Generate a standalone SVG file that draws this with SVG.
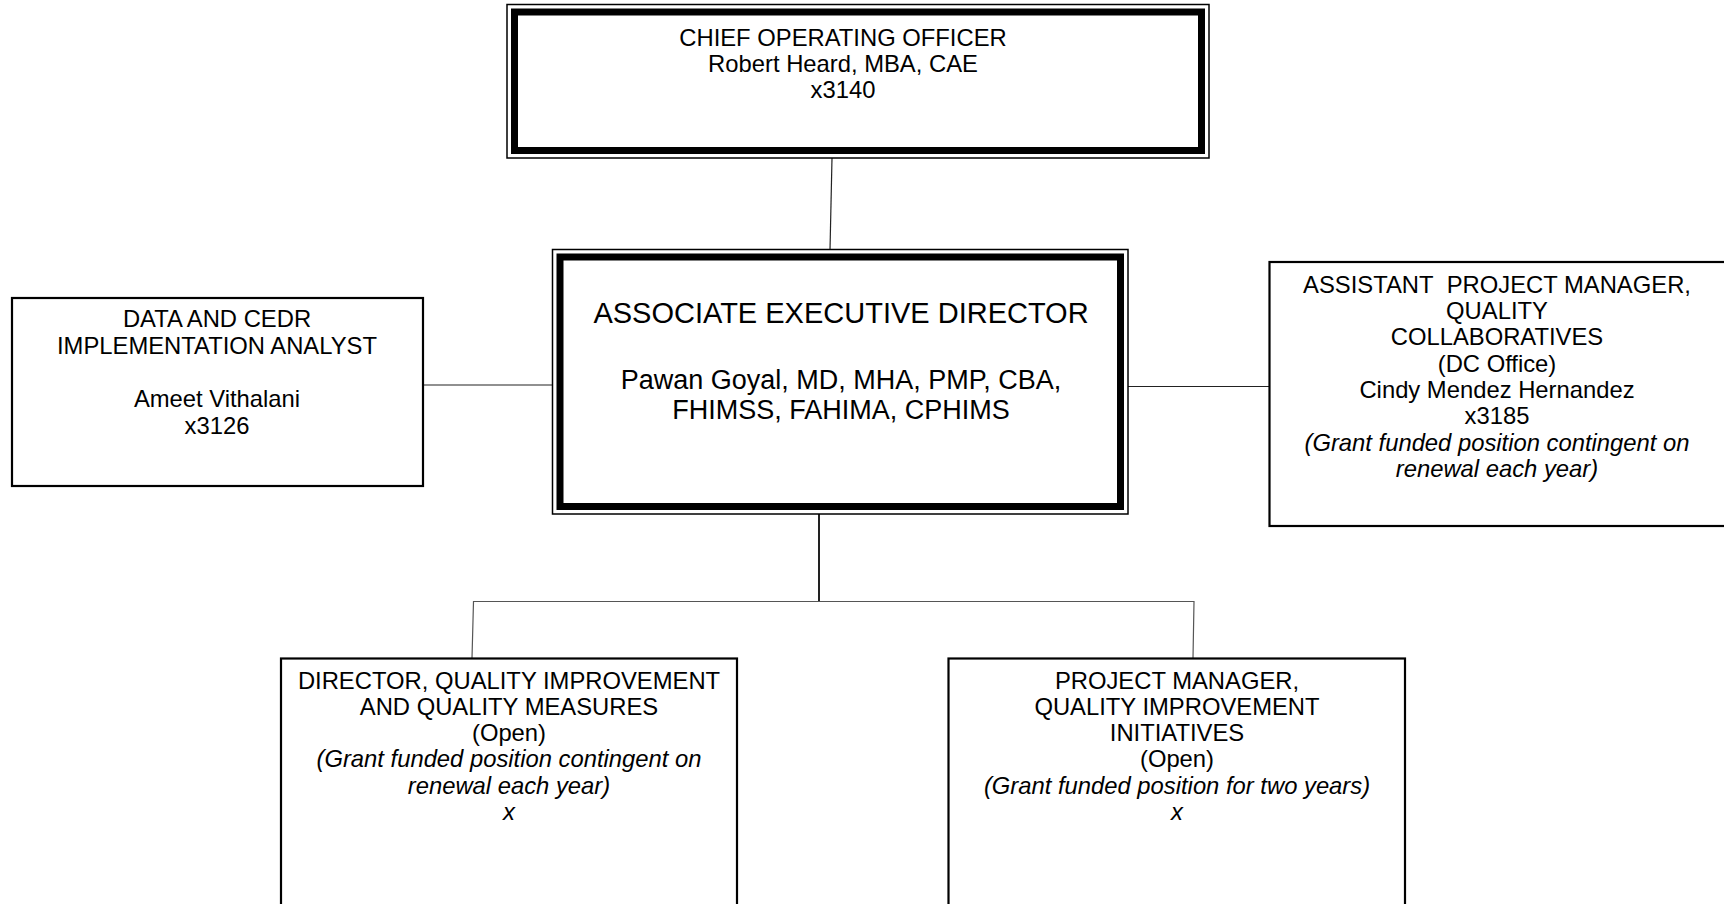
<svg xmlns="http://www.w3.org/2000/svg" width="1724" height="904" viewBox="0 0 1724 904">
<style>
text{font-family:"Liberation Sans",Arial,sans-serif;font-size:23.8px;fill:#000;text-anchor:middle}
.it{font-style:italic}
.big{font-size:29px}
.mid{font-size:27px}
.thin{fill:none;stroke:#000;stroke-width:1.5}
.thick{fill:none;stroke:#000;stroke-width:7}
.box{fill:#fff;stroke:#000;stroke-width:2.2}
.conn{fill:none;stroke:#222;stroke-width:1.2}
</style>
<rect width="1724" height="904" fill="#fff"/>
<g id="connectors">
<line class="conn" x1="832" y1="158" x2="830" y2="250"/>
<line class="conn" x1="423" y1="385" x2="552" y2="385"/>
<line class="conn" x1="1128" y1="386.5" x2="1270" y2="386.5"/>
<line class="conn" x1="819" y1="514" x2="819" y2="601" style="stroke-width:2"/>
<polyline class="conn" points="472,658 473.5,601.5 1194,601.5 1193,658" style="stroke:#555"/>
</g>
<g id="coo">
<rect class="thin" x="507" y="4.5" width="702" height="153.5"/>
<rect class="thick" x="514.5" y="12" width="687" height="138.5"/>
<text x="843" y="45.5">CHIEF OPERATING OFFICER</text>
<text x="843" y="71.5">Robert Heard, MBA, CAE</text>
<text x="843" y="97.5">x3140</text>
</g>
<g id="aed">
<rect class="thin" x="552.5" y="249.5" width="575.5" height="264.5"/>
<rect class="thick" x="560" y="257" width="560.5" height="249.5"/>
<text class="big" x="841" y="323">ASSOCIATE EXECUTIVE DIRECTOR</text>
<text class="mid" x="841" y="389">Pawan Goyal, MD, MHA, PMP, CBA,</text>
<text class="mid" x="841" y="419">FHIMSS, FAHIMA, CPHIMS</text>
</g>
<g id="data">
<rect class="box" x="12" y="298" width="411" height="188"/>
<text x="217" y="327">DATA AND CEDR</text>
<text x="217" y="353.5">IMPLEMENTATION ANALYST</text>
<text x="217" y="407">Ameet Vithalani</text>
<text x="217" y="433.5">x3126</text>
</g>
<g id="apm">
<rect class="box" x="1269.5" y="262" width="460" height="264"/>
<text x="1497" y="292.8">ASSISTANT&#160; PROJECT MANAGER,</text>
<text x="1497" y="319.1">QUALITY</text>
<text x="1497" y="345.4">COLLABORATIVES</text>
<text x="1497" y="371.7">(DC Office)</text>
<text x="1497" y="398">Cindy Mendez Hernandez</text>
<text x="1497" y="424.3">x3185</text>
<text class="it" x="1497" y="450.6">(Grant funded position contingent on</text>
<text class="it" x="1497" y="476.9">renewal each year)</text>
</g>
<g id="dir">
<rect class="box" x="281" y="658.5" width="456" height="260"/>
<text x="509" y="688.5">DIRECTOR, QUALITY IMPROVEMENT</text>
<text x="509" y="714.8">AND QUALITY MEASURES</text>
<text x="509" y="741.1">(Open)</text>
<text class="it" x="509" y="767.4">(Grant funded position contingent on</text>
<text class="it" x="509" y="793.7">renewal each year)</text>
<text class="it" x="509" y="820">x</text>
</g>
<g id="pm">
<rect class="box" x="948.5" y="658.5" width="456.5" height="260"/>
<text x="1177" y="688.5">PROJECT MANAGER,</text>
<text x="1177" y="714.8">QUALITY IMPROVEMENT</text>
<text x="1177" y="741.1">INITIATIVES</text>
<text x="1177" y="767.4">(Open)</text>
<text class="it" x="1177" y="793.7">(Grant funded position for two years)</text>
<text class="it" x="1177" y="820">x</text>
</g>
</svg>
